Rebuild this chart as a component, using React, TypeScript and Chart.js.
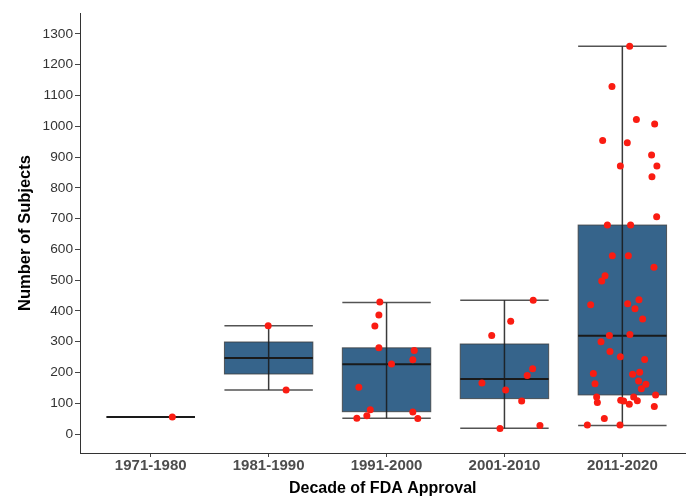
import React, { useEffect, useRef } from "react";
import { Chart, registerables } from "chart.js";

Chart.register(...registerables);

const categories = ["1971-1980", "1981-1990", "1991-2000", "2001-2010", "2011-2020"];
const yTicks = [0, 100, 200, 300, 400, 500, 600, 700, 800, 900, 1000, 1100, 1200, 1300];

// Box statistics per decade
const whiskerLow = [55, 143, 51, 18.5, 28];
const quart1 = [55, 195, 72.5, 115, 127];
const medians = [55, 247, 226.5, 179, 319.5];
const quart3 = [55, 299, 280, 292.5, 679];
const whiskerHigh = [55, 352, 427, 435, 1260];

// Individual subjects per decade (values) with horizontal jitter offsets (category units)
const g1971Values = [55];
const g1971Jitter = [0.183];
const g1981Values = [352, 143];
const g1981Jitter = [-0.004, 0.148];
const g1991Values = [429, 387, 351, 280.5, 271, 241.5, 227.5, 152, 79, 71.5, 59.5, 51, 50];
const g1991Jitter = [-0.057, -0.065, -0.099, -0.065, 0.235, 0.223, 0.042, -0.235, -0.138, 0.223, -0.167, -0.252, 0.265];
const g2001Values = [435, 366, 320, 212, 190, 166, 143, 107, 18, 28];
const g2001Jitter = [0.244, 0.053, -0.108, 0.239, 0.193, -0.191, 0.01, 0.146, -0.038, 0.301];
const g2011Values = [
  1260, 1129, 1022, 1007, 954, 946, 907, 871, 871, 836, 706, 679, 679,
  579, 579, 542, 514, 497, 436, 420, 423, 407, 374, 320, 323, 300, 268,
  251, 242, 197, 194, 201, 172, 163, 162, 147, 127, 120, 120, 102, 110,
  107, 108, 97, 89, 50, 29, 29,
];
const g2011Jitter = [
  0.062, -0.088, 0.119, 0.274, -0.167, 0.042, 0.248, -0.017, 0.293, 0.251, 0.291, -0.127, 0.07,
  -0.085, 0.051, 0.268, -0.147, -0.175, 0.141, -0.269, 0.045, 0.107, 0.172, -0.11, 0.064, -0.181, -0.105,
  -0.017, 0.189, -0.246, 0.087, 0.147, 0.138, -0.232, 0.2, 0.161, 0.282, -0.218, 0.096, -0.212, -0.014,
  0.011, 0.127, 0.059, 0.271, -0.153, -0.297, -0.02,
];

const groupValues = [g1971Values, g1981Values, g1991Values, g2001Values, g2011Values];
const groupJitter = [g1971Jitter, g1981Jitter, g1991Jitter, g2001Jitter, g2011Jitter];

const FONT = "'Liberation Sans', Arial, Helvetica, sans-serif";
const BOX_WIDTH = 0.75;

const boxPlugin = {
  id: "boxes",
  beforeDatasetsDraw(chart: any) {
    const { ctx, scales } = chart;
    const xs = scales.x;
    const ys = scales.y;
    ctx.save();
    categories.forEach((_, i) => {
      const xc = xs.getPixelForValue(i);
      const xl = xs.getPixelForValue(i - BOX_WIDTH / 2);
      const xr = xs.getPixelForValue(i + BOX_WIDTH / 2);
      const yLo = ys.getPixelForValue(whiskerLow[i]);
      const yQ1 = ys.getPixelForValue(quart1[i]);
      const yMed = ys.getPixelForValue(medians[i]);
      const yQ3 = ys.getPixelForValue(quart3[i]);
      const yHi = ys.getPixelForValue(whiskerHigh[i]);
      if (quart3[i] > quart1[i]) {
        ctx.fillStyle = "#36648B";
        ctx.fillRect(xl, yQ3, xr - xl, yQ1 - yQ3);
        ctx.strokeStyle = "rgba(60,60,60,0.8)";
        ctx.lineWidth = 1;
        ctx.strokeRect(xl, yQ3, xr - xl, yQ1 - yQ3);
      }
      ctx.strokeStyle = "rgba(25,25,25,0.85)";
      ctx.lineWidth = 1.5;
      ctx.beginPath();
      ctx.moveTo(xc, yLo);
      ctx.lineTo(xc, yHi);
      ctx.stroke();
      ctx.strokeStyle = "rgba(40,40,40,0.8)";
      ctx.beginPath();
      ctx.moveTo(xl, yLo);
      ctx.lineTo(xr, yLo);
      ctx.moveTo(xl, yHi);
      ctx.lineTo(xr, yHi);
      ctx.stroke();
      ctx.strokeStyle = "#1a1a1a";
      ctx.lineWidth = 2;
      ctx.beginPath();
      ctx.moveTo(xl, yMed);
      ctx.lineTo(xr, yMed);
      ctx.stroke();
    });
    ctx.restore();
  },
};

export default function App() {
  const ref = useRef<HTMLCanvasElement | null>(null);
  useEffect(() => {
    if (!ref.current) return;
    const points: { x: number; y: number }[] = [];
    groupValues.forEach((vals, i) => {
      vals.forEach((v, j) => points.push({ x: i + groupJitter[i][j], y: v }));
    });
    const chart = new Chart(ref.current, {
      type: "scatter",
      data: {
        datasets: [
          {
            data: points,
            backgroundColor: "rgb(250,28,18)",
            borderWidth: 0,
            pointRadius: 3.5,
            pointHoverRadius: 3.5,
          },
        ],
      },
      options: {
        responsive: false,
        animation: false,
        devicePixelRatio: 1,
        layout: { padding: { top: 13, left: 0, right: 0, bottom: 0 } },
        plugins: { legend: { display: false }, tooltip: { enabled: false } },
        scales: {
          x: {
            type: "linear",
            min: -0.6,
            max: -0.6 + 606 / 118,
            afterBuildTicks: (s: any) => {
              s.ticks = categories.map((_, i) => ({ value: i }));
            },
            afterFit: (s: any) => {
              s.height = 45;
            },
            grid: { drawOnChartArea: false, drawTicks: true, tickLength: 4, color: "#444" },
            border: { display: true, color: "#333", width: 1 },
            ticks: {
              callback: (v: any) => categories[v] ?? "",
              font: { family: FONT, size: 15, weight: "bold" },
              color: "#4D4D4D",
              padding: 0,
              maxRotation: 0,
              autoSkip: false,
            },
            title: {
              display: true,
              text: "Decade of FDA Approval",
              font: { family: FONT, size: 16, weight: "bold" },
              color: "#000",
              padding: { top: 0, bottom: 0 },
            },
          },
          y: {
            type: "linear",
            min: -61.7,
            max: 1368,
            afterBuildTicks: (s: any) => {
              s.ticks = yTicks.map((v) => ({ value: v }));
            },
            afterFit: (s: any) => {
              s.width = 80;
            },
            grid: { drawOnChartArea: false, drawTicks: true, tickLength: 5, color: "#444" },
            border: { display: true, color: "#333", width: 1 },
            ticks: {
              callback: (v: any) => String(v),
              font: { family: FONT, size: 13.7 },
              color: "#333",
              padding: 2,
            },
            title: {
              display: true,
              text: "Number of Subjects",
              font: { family: FONT, size: 16.5, weight: "bold" },
              color: "#000",
              padding: { top: 16, bottom: 0 },
            },
          },
        },
      },
      plugins: [boxPlugin],
    } as any);
    return () => chart.destroy();
  }, []);
  return (
    <div style={{ position: "fixed", left: 0, top: 0, width: 689, height: 498, background: "#fff" }}>
      <canvas ref={ref} width={689} height={498} style={{ width: 689, height: 498, display: "block" }} />
    </div>
  );
}
